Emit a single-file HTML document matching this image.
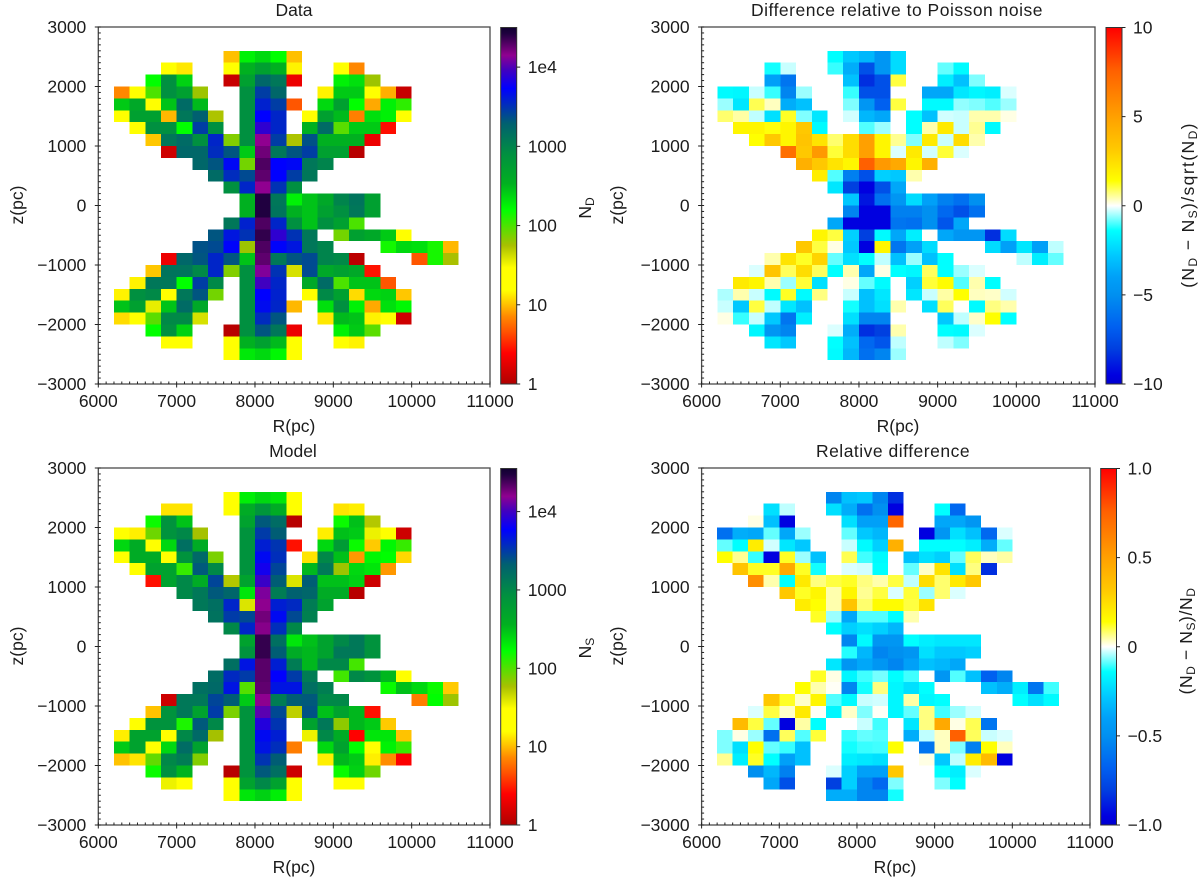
<!DOCTYPE html>
<html lang="en">
<head>
<meta charset="utf-8">
<title>Data vs model star counts</title>
<style>
html,body{margin:0;padding:0;background:#fff;}
svg{display:block;font-family:"Liberation Sans","DejaVu Sans",sans-serif;fill:#1c1c1c;}
text{font-size:17.5px;}
</style>
</head>
<body>
<svg id="figure" width="1200" height="880" viewBox="0 0 1200 880" xmlns="http://www.w3.org/2000/svg">
  <defs id="gradients"></defs>
  <g id="panel-data"></g>
  <g id="panel-poisson"></g>
  <g id="panel-model"></g>
  <g id="panel-relative"></g>

  <text x="294" y="16" text-anchor="middle">Data</text>
  <text x="897" y="16" text-anchor="middle" letter-spacing="0.5">Difference relative to Poisson noise</text>
  <text x="293" y="457" text-anchor="middle">Model</text>
  <text x="893" y="457" text-anchor="middle" letter-spacing="0.5">Relative difference</text>

  <text x="294" y="432" text-anchor="middle">R(pc)</text>
  <text x="898" y="432" text-anchor="middle">R(pc)</text>
  <text x="294" y="873" text-anchor="middle">R(pc)</text>
  <text x="895" y="873" text-anchor="middle">R(pc)</text>

  <text transform="translate(23,205) rotate(-90)" text-anchor="middle">z(pc)</text>
  <text transform="translate(623,205) rotate(-90)" text-anchor="middle">z(pc)</text>
  <text transform="translate(23,646) rotate(-90)" text-anchor="middle">z(pc)</text>
  <text transform="translate(623,646) rotate(-90)" text-anchor="middle">z(pc)</text>

  <text transform="translate(591,208) rotate(-90)" text-anchor="middle">N<tspan font-size="12" dy="3">D</tspan></text>
  <text transform="translate(591,648) rotate(-90)" text-anchor="middle">N<tspan font-size="12" dy="3">S</tspan></text>
  <text transform="translate(1194,205) rotate(-90)" text-anchor="middle" letter-spacing="1.4">(N<tspan font-size="12" dy="3">D</tspan><tspan dy="-3"> − N</tspan><tspan font-size="12" dy="3">S</tspan><tspan dy="-3">)/sqrt(N</tspan><tspan font-size="12" dy="3">D</tspan><tspan dy="-3">)</tspan></text>
  <text transform="translate(1192,641) rotate(-90)" text-anchor="middle" letter-spacing="0.6">(N<tspan font-size="12" dy="3">D</tspan><tspan dy="-3"> − N</tspan><tspan font-size="12" dy="3">S</tspan><tspan dy="-3">)/N</tspan><tspan font-size="12" dy="3">D</tspan></text>
</svg>
<script>
const _ = null;

/* Bin categories: left edge of each R column and top edge of each z row (pc) */
const rBins = [6200,6400,6600,6800,7000,7200,7400,7600,7800,8000,8200,8400,8600,8800,9000,9200,9400,9600,9800,10000,10200,10400];
const zBins = [2600,2400,2200,2000,1800,1600,1400,1200,1000,800,600,400,200,0,-200,-400,-600,-800,-1000,-1200,-1400,-1600,-1800,-2000,-2200,-2400];
const binWidth = 200;

/* Tick values */
const xTicks = [6000,7000,8000,9000,10000,11000];
const yTicks = [-3000,-2000,-1000,0,1000,2000,3000];
const countTicks = [1,10,100,1000,10000];
const countTickLabels = ['1','10','100','1000','1e4'];
const poissonTicks = [-10,-5,0,5,10];
const poissonTickLabels = ['−10','−5','0','5','10'];
const relativeTicks = [-1,-0.5,0,0.5,1];
const relativeTickLabels = ['−1.0','−0.5','0','0.5','1.0'];

/* Observed counts N_D per bin */
const dataCounts = [
[_,_,_,_,_,_,_,10,182,229,158,10],
[_,_,_,20,13,_,_,20,339,525,339,14,_,_,20,7],
[_,_,158,794,245,_,_,1.3,525,1700,1260,2,_,_,182,214,60],
[7,20,100,794,525,60,_,_,794,2820,1700,_,_,14,263,263,20,9,1.3],
[263,417,20,282,1585,309,_,_,794,3800,2820,4.7,_,229,525,158,8.7,182,120],
[20,525,525,9.5,1260,1950,54,_,794,5370,3630,_,20,525,309,6.6,214,182,20],
[_,20,794,794,158,2820,794,_,794,7940,3630,_,339,1585,91,263,263,2.7],
[_,_,10.5,1260,1585,794,3630,71,794,14125,2820,54,2290,339,339,339,2],
[_,_,_,1.4,1700,1700,3390,2190,263,17000,1260,2190,2820,525,525,1.1],
[_,_,_,_,_,1700,2190,5000,78,20400,5370,5000,1260,1000],
[_,_,_,_,_,_,1585,3390,2455,18600,5370,2820,1260],
[_,_,_,_,_,_,_,794,3630,14125,3160,794],
[_,_,_,_,_,_,_,_,339,26300,1260,182,282,417,1000,1350,525],
[_,_,_,_,_,_,_,_,339,26300,1350,339,282,525,794,1260,525],
[_,_,_,_,_,_,_,1260,3800,20400,3630,794,282,794,525,100],
[_,_,_,_,_,_,2190,4270,3160,24000,7940,3160,1260,_,78,525,417,263,20],
[_,_,_,_,_,2290,2455,5200,60,20400,5200,4270,1260,1000,_,_,_,141,229,214,138,9.5],
[_,_,_,2,1700,2190,3630,2190,282,18600,1260,2190,2455,1000,900,1.15,_,_,_,4.7,138,56],
[_,_,10.5,1350,1350,900,3630,71,794,13000,3160,40,2455,417,525,417,2.8],
[_,14,1260,1260,158,2820,900,_,794,9120,3630,_,417,1585,100,282,282,4.7],
[14,794,900,20,1260,2190,78,_,794,5370,3800,_,20,900,525,12,229,245,10.5],
[282,525,35,282,1585,417,_,_,794,4790,3630,9.5,_,214,794,182,8.7,214,170],
[12,20,91,900,900,40,_,_,794,3390,2190,_,_,13,309,282,14,20,1.4],
[_,_,158,794,245,_,_,1.1,794,2190,1260,2,_,_,182,263,91],
[_,_,_,20,20,_,_,20,339,525,309,20,_,_,20,14],
[_,_,_,_,_,_,_,20,195,229,170,20]
];

/* Model counts N_S per bin */
const modelCounts = [
[_,_,_,_,_,_,_,20,195,245,214,20],
[_,_,_,13,13,_,_,20,417,750,417,20,_,_,13,14],
[_,_,158,794,300,_,_,_,525,2290,1700,1.1,_,_,158,309,54],
[20,14,85,794,1000,60,_,_,794,3160,2190,_,_,14,309,282,35,20,1.4],
[245,417,20,245,1585,417,_,_,794,4270,3390,2.8,_,245,630,158,11,182,120],
[20,417,417,20,794,1800,78,_,794,5370,3630,_,13,1000,309,8,182,170,12],
[_,20,525,525,120,2290,1000,_,794,6900,2820,_,339,1350,63,245,214,8],
[_,_,2.8,525,1000,417,2820,54,525,9550,2190,40,2190,309,309,263,1.4],
[_,_,_,_,1000,1350,2290,1900,214,14125,1260,2100,1900,417,417,1.1],
[_,_,_,_,_,1350,1585,4000,40,15850,4270,3800,1260,525],
[_,_,_,_,_,_,1500,3160,2700,18600,5370,2700,1150],
[_,_,_,_,_,_,_,1000,4000,16600,3630,1000],
[_,_,_,_,_,_,_,_,525,26300,1585,214,309,525,1000,1350,794],
[_,_,_,_,_,_,_,_,794,26300,2190,417,339,525,1350,1350,794],
[_,_,_,_,_,_,_,1585,4790,21400,4270,1260,339,1000,1000,110],
[_,_,_,_,_,_,1700,3800,3160,21400,6000,3160,1260,_,112,1000,794,339,20],
[_,_,_,_,_,1585,1800,4790,100,20400,4790,4790,1585,1200,_,_,_,158,309,245,158,11],
[_,_,_,1.4,1350,1350,2820,2190,282,15850,1260,2200,2290,1000,1000,_,_,_,_,6.6,170,63],
[_,_,10.5,794,1350,525,3160,78,794,11750,2700,50,2455,309,525,339,2.8],
[_,20,794,794,141,2290,1000,_,794,7940,3390,_,525,1350,69,339,282,11],
[14,525,525,20,1000,1800,60,_,794,5370,4270,_,35,1000,417,2.5,214,214,10.5],
[282,525,20,245,1700,525,_,_,794,4790,3630,6.6,_,245,525,170,20,190,120],
[10.5,13,91,1000,1260,74,_,_,794,3390,2190,_,_,14,339,282,14,7.4,2.4],
[_,_,158,850,350,_,_,1.1,794,2290,1585,1.4,_,_,158,263,85],
[_,_,_,35,20,_,_,20,525,1000,525,20,_,_,20,20],
[_,_,_,_,_,_,_,20,214,263,195,20]
];

/* (N_D − N_S)/sqrt(N_D) per bin */
const poissonDiff = [
[_,_,_,_,_,_,_,-1.4,-2.8,-3.3,-4.6,-2.3],
[_,_,_,-1.3,-.3,_,_,-1.1,-3.6,-7.4,-4.6,-2.3,_,_,-.85,-1.5],
[_,_,_,-4,-6,_,_,_,-3,-8.4,-7.4,1.05,_,_,-1.8,-3,-.7],
[-1.5,-1.6,-.3,-1.1,-5.4,-.55,_,_,-1.1,-7.4,-7.4,_,_,-3.8,-3.8,-2,-1.6,-1.8,-.2],
[-.55,-2,.95,.35,-3.6,-3,_,_,-.7,-4.6,-6.8,1.05,_,-1.5,-1.5,-.6,-.7,-.95,-.55],
[.8,.5,-.35,-2.2,1.2,-.7,-2,_,-.25,-3.3,-3.8,_,-1.4,-3,-.25,-.3,.45,.45,.15],
[_,1.7,1.7,1.35,1.7,3.2,-1.5,_,_,-.95,-.55,_,-1.4,.45,2.1,-.3,.6,-1.5],
[_,_,1.4,3.2,1.7,3.4,2.3,.8,2.5,5,1.7,.6,-.7,2.1,-.3,2.5,.45],
[_,_,_,_,7,3.2,5.3,1.1,2.5,5,1.7,-.2,2.1,-.25,1.1,-.2],
[_,_,_,_,_,4.3,3.2,2.3,1.7,7.6,5.3,4.6,1.7,4.3],
[_,_,_,_,_,_,2,-.95,-5.6,-7.4,-2.6,-2.8,.45],
[_,_,_,_,_,_,_,-2,-8,-9.5,-7.4,-3.8],
[_,_,_,_,_,_,_,_,-2.8,-9,-6.2,-4.6,-2.3,-4,-5.6,-6.2,-5],
[_,_,_,_,_,_,_,_,-5.4,-9.5,-9.5,-5.6,-5.6,-5,-6.5,-7.4,-6.2],
[_,_,_,_,_,_,_,-3.8,-9.5,-9.5,-9.5,-6,-6.2,-5,-7.2,-3.8],
[_,_,_,_,_,_,1.7,1.05,-2.6,-8,-1.5,-3.8,-1.8,.03,-3.8,-4.6,-4.6,-8.4,-2.3],
[_,_,_,_,_,3.2,1.05,.15,-2.8,-9.5,1.7,-6,-4,-2.3,_,_,_,-2.3,-4,-2,-4,-.35],
[_,_,_,.45,2.3,1.2,2.8,-.85,-2.2,-1.4,-.35,-3,-.55,-3,-1.4,_,_,_,_,-.35,-1.8,-.85],
[_,_,-.2,3.4,.9,2.5,.9,-1.4,.45,-3.8,.15,-1.4,-1.6,.9,-1.4,-.55,-.2],
[_,2.1,1.7,.45,-.55,1.1,-2.2,_,.15,-.85,-1.5,_,-2.6,1.1,1.5,-.95,.45,-1.4],
[-.45,.45,-.3,-1.5,1.2,-1.5,.7,_,-.3,-3,-2,_,-2,-.3,.5,1.4,.35,.3,-.25],
[-.3,-2.8,1.05,-.35,-2,-3,_,_,-1.3,-3,-2.2,.45,_,-2.2,.9,.02,-1.5,.7,.45],
[.15,-1.1,-.3,-2.8,-6,-1.8,_,_,-2.2,-5.4,-5.4,_,_,_,-2.8,-.35,.3,1.4,-1.4],
[_,_,-1.6,-4.6,-5.4,_,_,-.2,-3.6,-8.4,-8,.45,_,_,-1.4,-1.5,-.2],
[_,_,_,-2,-2.8,_,_,-1.4,-3,-6.5,-7.2,-.35,_,_,-.35,-.7],
[_,_,_,_,_,_,_,-1.5,-3.3,-6.2,-5.4,-.55]
];

/* (N_D − N_S)/N_D per bin */
const relativeDiff = [
[_,_,_,_,_,_,_,-.54,-.3,-.28,-.54,-.84],
[_,_,_,-.22,-.035,_,_,-.22,-.36,-.62,-.5,-.95,_,_,-.14,-.65],
[_,_,.015,-.3,-.95,_,_,_,-.22,-.4,-.4,.73,_,_,-.38,-.38,-.46],
[-.62,-.36,-.38,-.085,-.38,-.055,_,_,-.085,-.28,-.33,_,_,-.95,-.46,-.22,-.3,-.65,-.02],
[-.085,-.14,.2,-.025,-.2,-.28,_,_,-.03,-.15,-.26,.43,_,-.14,-.14,-.14,-.18,-.36,-.085],
[.14,.06,-.11,-.95,.12,-.055,-.3,_,.095,-.105,-.15,_,-.3,-.22,-.26,-.085,.09,.035,.05],
[_,.34,.12,.12,.46,.12,-.13,_,-.02,-.025,-.14,_,-.085,.03,.23,-.22,.07,-.84],
[_,_,.57,.045,-.14,.21,.07,.105,.12,.07,.045,.105,-.035,.25,.08,.21,.32],
[_,_,_,_,.32,.12,.17,.045,.17,.06,.105,-.02,.11,-.055,.08,-.02],
[_,_,_,_,_,.2,.14,.045,.34,.08,.15,.15,.105,.23],
[_,_,_,_,_,_,.12,-.055,-.38,-.095,-.095,-.14,.045],
[_,_,_,_,_,_,_,-.14,-.26,-.22,-.26,-.33],
[_,_,_,_,_,_,_,_,-.54,-.15,-.46,-.46,-.14,-.18,-.2,-.2,-.2],
[_,_,_,_,_,_,_,_,-.12,-.33,-.54,-.5,-.46,-.22,-.28,-.28,-.26],
[_,_,_,_,_,_,_,-.2,-.46,-.38,-.46,-.54,-.4,-.3,-.33,-.38],
[_,_,_,_,_,_,.12,.015,-.16,-.105,-.075,-.14,-.105,0,-.46,-.095,-.3,-.68,-.54],
[_,_,_,_,_,.14,.045,.005,-.54,-.13,.07,-.16,-.22,-.14,_,_,_,-.3,-.36,-.18,-.6,-.105],
[_,_,_,.32,.12,.03,.17,-.095,-.15,-.03,-.025,-.16,.05,-.16,-.14,_,_,_,_,-.14,-.22,-.15],
[_,_,-.02,.105,.03,.21,.005,-.16,.03,-.07,.005,-.16,-.085,.07,-.105,-.055,-.025],
[_,.38,.105,-.085,-.95,.05,-.14,_,_,-.03,-.105,_,-.2,.07,.46,.015,.095,-.6],
[-.07,.015,-.055,-.62,.09,-.095,.11,_,-.11,-.085,-.095,_,-.36,-.035,.035,.76,.09,-.03,-.02],
[-.07,-.22,.14,-.085,-.11,-.3,_,_,-.13,-.11,-.105,.14,_,-.6,.035,-.07,-.56,.14,.035],
[.06,-.18,.12,-.14,-.4,-.3,_,_,-.18,-.2,-.22,_,_,.015,-.28,-.035,.2,.38,-.95],
[_,_,-.5,-.33,-.56,_,_,-.02,-.26,-.4,-.4,.32,_,_,-.14,-.18,-.02],
[_,_,_,-.38,-.74,_,_,-.8,-.26,-.54,-.65,-.07,_,_,-.07,-.14],
[_,_,_,_,_,_,_,-.36,-.36,-.54,-.54,-.13]
];

/* Colormaps */
const logStops = [[0,'#b00000'],[.39,'#ff0000'],[.65,'#ff5000'],[.85,'#ff8800'],[1,'#ffc000'],[1.18,'#ffff00'],[1.47,'#ffff00'],[1.75,'#a8c000'],[2.2,'#00ff00'],[2.53,'#00b020'],[2.9,'#009040'],[3.29,'#006070'],[3.73,'#0000ff'],[3.96,'#4000c0'],[4.15,'#900090'],[4.42,'#200040'],[4.5,'#100030']];
const divStops = [[-10,'#0000d0'],[-9.5,'#0000e0'],[-8,'#0040e0'],[-6.8,'#0060f0'],[-5,'#0090f0'],[-4,'#00a0f8'],[-2.8,'#00c8ff'],[-1.4,'#00ffff'],[0,'#ffffff'],[1.4,'#ffff00'],[3.2,'#ffc800'],[5,'#ffa000'],[7.6,'#ff6000'],[10,'#ff0000']];

function hexRgb(h){return [1,3,5].map(function(i){return parseInt(h.substr(i,2),16);});}
function sample(stops,v){
  if(v<=stops[0][0])return stops[0][1];
  for(let i=1;i<stops.length;i++){
    if(v<=stops[i][0]){
      const a=stops[i-1],b=stops[i],t=(v-a[0])/(b[0]-a[0]);
      const ca=hexRgb(a[1]),cb=hexRgb(b[1]);
      return 'rgb('+ca.map(function(c,k){return Math.round(c+(cb[k]-c)*t);}).join(',')+')';
    }
  }
  return stops[stops.length-1][1];
}

const SVGNS='http://www.w3.org/2000/svg';
function mk(tag,parent,attrs){
  const el=document.createElementNS(SVGNS,tag);
  for(const k in attrs)el.setAttribute(k,attrs[k]);
  parent.appendChild(el);
  return el;
}

/* Layout */
const layouts = {
  data:{id:'panel-data',l:98.3,r:490,t:27,b:384,cl:500.7,cr:516.7,ct:27.5,cb:384},
  poisson:{id:'panel-poisson',l:701.6,r:1095,t:27,b:384,cl:1106,cr:1122,ct:27.5,cb:384},
  model:{id:'panel-model',l:98.3,r:490,t:468,b:825,cl:500.7,cr:516.7,ct:468.5,cb:825},
  relative:{id:'panel-relative',l:701.6,r:1090,t:468,b:825,cl:1100.7,cr:1116.5,ct:468.5,cb:825}
};

function drawPanel(L,values,colorOf,name){
  const g=document.getElementById(L.id);
  const xScale=function(r){return L.l+(r-6000)/5000*(L.r-L.l);};
  const yScale=function(z){return L.b-(z+3000)/6000*(L.b-L.t);};
  values.forEach(function(row,ri){
    row.forEach(function(v,ci){
      if(v===null||v===undefined)return;
      const x0=xScale(rBins[ci]),x1=xScale(rBins[ci]+binWidth);
      const y0=yScale(zBins[ri]),y1=yScale(zBins[ri]-binWidth);
      const c=mk('rect',g,{x:x0,y:y0,width:x1-x0,height:y1-y0,fill:colorOf(v),'shape-rendering':'crispEdges'});
      
      
    });
  });
  const frame=mk('rect',g,{x:L.l,y:L.t,width:L.r-L.l,height:L.b-L.t,fill:'none',stroke:'#4a4a4a','stroke-width':1.3});
  
  
  const ax=mk('g',g,{stroke:'#222','stroke-width':1});
  
  
  for(let r=6000;r<=11000;r+=100){
    const x=xScale(r);
    mk('line',ax,{x1:x,x2:x,y1:L.b,y2:L.b-2.5});
  }
  for(let z=-3000;z<=3000;z+=100){
    const y=yScale(z);
    mk('line',ax,{x1:L.l,x2:L.l+2.5,y1:y,y2:y});
  }
  xTicks.forEach(function(t){
    const x=xScale(t);
    mk('line',ax,{x1:x,x2:x,y1:L.b,y2:L.b+3.5});
    const lab=mk('text',g,{x:x,y:L.b+23,'text-anchor':'middle'});
    lab.textContent=String(t);
    
    
  });
  yTicks.forEach(function(t){
    const y=yScale(t);
    mk('line',ax,{x1:L.l-3.5,x2:L.l,y1:y,y2:y});
    const lab=mk('text',g,{x:L.l-12,y:y+6,'text-anchor':'end'});
    lab.textContent=(t<0?'−':'')+Math.abs(t);
    
    
  });
}

function drawColorbar(L,stops,toStop,toPos,ticks,labels,name){
  const g=document.getElementById(L.id);
  const defs=document.getElementById('gradients');
  const lg=mk('linearGradient',defs,{id:'grad-'+name,x1:0,y1:1,x2:0,y2:0});
  stops.forEach(function(s){
    mk('stop',lg,{offset:toStop(s[0]),'stop-color':s[1]});
  });
  const bar=mk('rect',g,{x:L.cl,y:L.ct,width:L.cr-L.cl,height:L.cb-L.ct,fill:'url(#grad-'+name+')',stroke:'#333','stroke-width':1});
  
  
  ticks.forEach(function(t,i){
    const y=L.cb-toPos(t)*(L.cb-L.ct);
    const tk=mk('line',g,{x1:L.cr,x2:L.cr+3.5,y1:y,y2:y,stroke:'#222','stroke-width':1});
    
    
    const lab=mk('text',g,{x:L.cr+11,y:y+6});
    lab.textContent=labels[i];
    
    
  });
}

function logColor(vmaxLog){
  return function(v){return sample(logStops,Math.log10(v)*4.5/vmaxLog);};
}
const dataLogMax=4.5, modelLogMax=4.55;

drawPanel(layouts.data,dataCounts,logColor(dataLogMax),'data');
drawColorbar(layouts.data,logStops,function(s){return s/4.5;},function(t){return Math.log10(t)/dataLogMax;},countTicks,countTickLabels,'data');

drawPanel(layouts.poisson,poissonDiff,function(v){return sample(divStops,v);},'poisson');
drawColorbar(layouts.poisson,divStops,function(s){return (s+10)/20;},function(t){return (t+10)/20;},poissonTicks,poissonTickLabels,'poisson');

drawPanel(layouts.model,modelCounts,logColor(modelLogMax),'model');
drawColorbar(layouts.model,logStops,function(s){return s/4.5;},function(t){return Math.log10(t)/modelLogMax;},countTicks,countTickLabels,'model');

drawPanel(layouts.relative,relativeDiff,function(v){return sample(divStops,v*10);},'relative');
drawColorbar(layouts.relative,divStops,function(s){return (s+10)/20;},function(t){return (t+1)/2;},relativeTicks,relativeTickLabels,'relative');
</script>
</body>
</html>
